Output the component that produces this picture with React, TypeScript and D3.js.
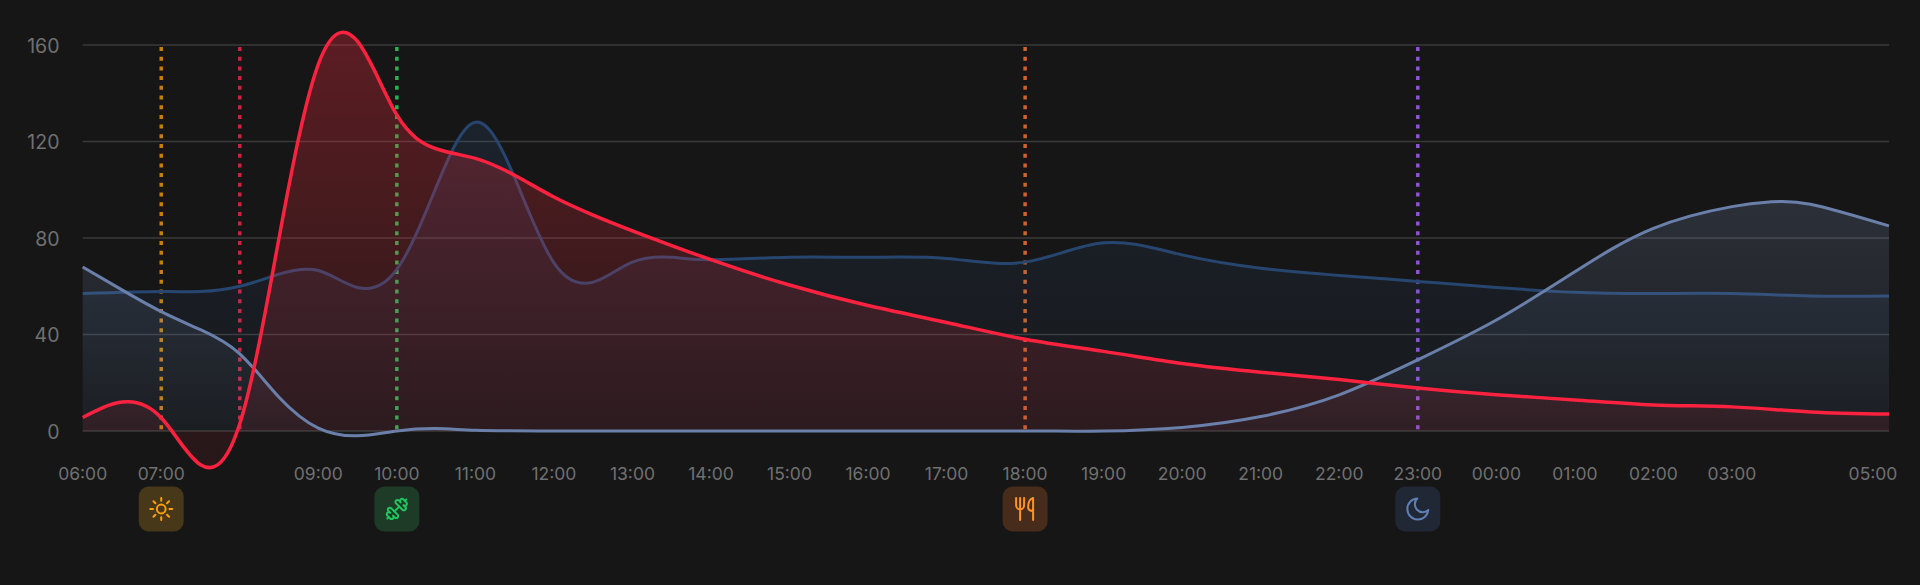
import * as d3 from "d3";

// hours since 06:00
const redHours = [0, 0.5, 1, 1.5, 2, 2.5, 3, 3.5, 4, 4.5, 5, 5.5, 6, 6.5, 7, 8, 9, 10, 11, 12, 13, 14, 15, 16, 17, 18, 19, 20, 21, 22, 23];
const redValues = [5.6, 12, 5.5, -14, 3, 80, 152, 161.5, 131, 117, 113, 106, 97, 89.5, 83, 71, 60.5, 52, 45, 38, 33, 28, 24.4, 21.3, 17.8, 15, 12.9, 10.8, 10, 7.9, 7];

const slateHours = [0, 0.5, 1, 1.5, 2, 2.5, 3, 3.5, 4, 4.5, 5, 6, 8, 10, 12, 13, 14, 15, 16, 17, 18, 19, 20, 21, 21.5, 22, 23];
const slateValues = [68, 58.5, 49.5, 42, 32, 14, 1.2, -2, 0, 1, 0.3, 0, 0, 0, 0, 0, 1.5, 6, 15, 29.5, 46, 66, 84, 93, 95, 94, 85];

const navyHours = [0, 1, 1.5, 2, 2.5, 3, 3.5, 4, 4.5, 5, 5.5, 6, 6.5, 7, 7.5, 8, 9, 10, 11, 12, 13, 14, 15, 16, 17, 18, 19, 20, 21, 22, 23];
const navyValues = [57, 57.8, 57.8, 60, 65, 66.5, 59.5, 67, 101, 128, 105, 69.7, 61.7, 70, 72, 71, 72, 72, 71.5, 70, 78, 73, 67.5, 64.5, 62, 59.5, 57.5, 57, 57, 56, 56];

const yTicks = [0, 40, 80, 120, 160];
const xLabels = ["06:00", "07:00", "09:00", "10:00", "11:00", "12:00", "13:00", "14:00", "15:00", "16:00", "17:00", "18:00", "19:00", "20:00", "21:00", "22:00", "23:00", "00:00", "01:00", "02:00", "03:00", "05:00"];
const xLabelHours = [0, 1, 3, 4, 5, 6, 7, 8, 9, 10, 11, 12, 13, 14, 15, 16, 17, 18, 19, 20, 21, 23];

const ruleHours = [1, 2, 4, 12, 17];
const ruleColors = ["#c97d12", "#c4283f", "#27b552", "#d0622a", "#8f52d9"];

const badgeHours = [1, 4, 12, 17];
const badgeNames = ["sun", "dumbbell", "food", "moon"];
const badgeFills = ["#463819", "#1e3b27", "#472b1b", "#212835"];
const badgeColors = ["#ff9f0a", "#22c55e", "#ff9326", "#5f7fb5"];

const W = 1920;
const H = 585;
const x = d3.scaleLinear().domain([0, 23]).range([82.7, 1889]);
const y = d3.scaleLinear().domain([0, 160]).range([431, 45]);
const zero = y(0);

type Pt = [number, number];
const zip = (h: number[], v: number[]): Pt[] => h.map((d, i) => [d, v[i]]);

const spline = d3.line<Pt>().x(d => x(d[0])).y(d => y(d[1])).curve(d3.curveNatural);
const area = d3.area<Pt>().x(d => x(d[0])).y0(zero).y1(d => y(d[1])).curve(d3.curveNatural);

const navy = { id: "navy", pts: zip(navyHours, navyValues), stroke: "#27466f", width: 3, top: 0.13, bottom: 0.03, color: "#3f78c8" };
const slate = { id: "slate", pts: zip(slateHours, slateValues), stroke: "#6a80aa", width: 3, top: 0.18, bottom: 0.03, color: "#8ea6d8" };
const red = { id: "red", pts: zip(redHours, redValues), stroke: "#fa223f", width: 3.5, top: 0.3, bottom: 0.07, color: "#ff2d3f" };
const series = [navy, slate, red];

function Icon({ name, color }: { name: string; color: string }) {
  const common = { fill: "none", stroke: color, strokeWidth: 2, strokeLinecap: "round" as const, strokeLinejoin: "round" as const };
  if (name === "sun") {
    const rays = d3.range(8).map(i => i * 45);
    return (
      <g {...common}>
        <circle r={4.4} />
        {rays.map(a => <line key={a} y1={-8.2} y2={-11} transform={`rotate(${a})`} />)}
      </g>
    );
  }
  if (name === "dumbbell") {
    return (
      <g {...common} transform="scale(-1,1) translate(-12,-12)">
        <path d="M14.4 14.4 9.6 9.6" />
        <path d="M18.657 21.485a2 2 0 1 1-2.829-2.828l-1.767 1.768a2 2 0 1 1-2.829-2.829l6.364-6.364a2 2 0 1 1 2.829 2.829l-1.768 1.767a2 2 0 1 1 2.828 2.829z" />
        <path d="m21.5 21.5-1.4-1.4" />
        <path d="M3.9 3.9 2.5 2.5" />
        <path d="M6.404 12.768a2 2 0 1 1-2.829-2.829l1.768-1.767a2 2 0 1 1-2.828-2.829l2.828-2.828a2 2 0 1 1 2.829 2.828l1.767-1.768a2 2 0 1 1 2.829 2.829z" />
      </g>
    );
  }
  if (name === "food") {
    return (
      <g {...common}>
        <path d="M-9 -11V-4C-9 -1 -7 0.5 -5 0.5C-3 0.5 -1 -1 -1 -4V-11M-5 -11V11" />
        <path d="M8 11V-11C4.5 -10 3 -6 3 -2C3 0.5 5 2 8 2" />
      </g>
    );
  }
  return (
    <g {...common}>
      <path d="M-0.5 -10.5A10.5 10.5 0 1 0 10.5 1A7.5 7.5 0 0 1 -0.5 -10.5Z" />
    </g>
  );
}

export default function App() {
  return (
    <svg width={W} height={H} viewBox={`0 0 ${W} ${H}`} style={{ position: "absolute", left: 0, top: 0, background: "#161616" }}>
      <defs>
        {series.map(s => (
          <linearGradient key={s.id} id={`grad-${s.id}`} x1="0" y1="0" x2="0" y2="1">
            <stop offset="0%" stopColor={s.color} stopOpacity={s.top} />
            <stop offset="100%" stopColor={s.color} stopOpacity={s.bottom} />
          </linearGradient>
        ))}
      </defs>

      {yTicks.map(t => (
        <g key={t}>
          <line x1={x(0)} x2={x(23)} y1={y(t)} y2={y(t)} stroke="#3a3a3a" strokeWidth={1.5} />
          <text x={59.5} y={y(t)} dy="0.4em" textAnchor="end" fontFamily="Inter" fontSize={19.5} fill="#707070">{t}</text>
        </g>
      ))}

      {ruleHours.map((h, i) => (
        <line key={h} x1={x(h)} x2={x(h)} y1={47} y2={zero} stroke={ruleColors[i]} strokeWidth={3.5} strokeDasharray="4 5.7" />
      ))}

      {/* navy sits under the red fill, the slate and red lines stay on top */}
      <path d={area(navy.pts) ?? ""} fill="url(#grad-navy)" />
      <path d={spline(navy.pts) ?? ""} fill="none" stroke={navy.stroke} strokeWidth={navy.width} />
      <path d={area(slate.pts) ?? ""} fill="url(#grad-slate)" />
      <path d={area(red.pts) ?? ""} fill="url(#grad-red)" />
      <path d={spline(slate.pts) ?? ""} fill="none" stroke={slate.stroke} strokeWidth={slate.width} />
      <path d={spline(red.pts) ?? ""} fill="none" stroke={red.stroke} strokeWidth={red.width} />

      {xLabels.map((l, i) => (
        <text key={l} x={i === xLabels.length - 1 ? x(xLabelHours[i]) - 16 : x(xLabelHours[i])} y={480} textAnchor="middle" fontFamily="Inter" fontSize={17.5} fill="#707070">{l}</text>
      ))}

      {badgeHours.map((h, i) => (
        <g key={h} transform={`translate(${x(h)},509)`}>
          <rect x={-22.5} y={-22.5} width={45} height={45} rx={10} fill={badgeFills[i]} />
          <Icon name={badgeNames[i]} color={badgeColors[i]} />
        </g>
      ))}
    </svg>
  );
}
